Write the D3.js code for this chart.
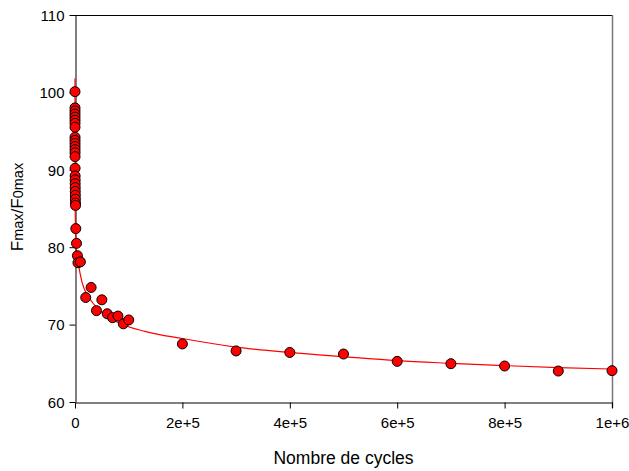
<!DOCTYPE html>
<html><head><meta charset="utf-8">
<script src="https://cdn.jsdelivr.net/npm/d3@7"></script>
<style>body{margin:0;background:#fff}svg{display:block}text{font-family:"Liberation Sans",Arial,sans-serif}</style>
</head><body>
<svg id="c" width="629" height="471"></svg>
<script>
// Measured points (cycles, Fmax/F0max)
const cycles = [5, 12, 14, 16, 19, 22, 25, 30, 45, 52, 60, 68, 78, 90, 105, 170, 230, 280, 340, 410, 500, 600, 720, 870, 1000, 1500, 2800, 4500, 5500,
  10000, 20000, 30000, 40000, 50000, 60000, 70000, 80000, 90000, 100000,
  200000, 300000, 400000, 500000, 600000, 700000, 800000, 900000, 1000000];
const ratio = [100.1, 98.0, 97.6, 97.2, 96.8, 96.4, 96.0, 95.5, 94.2, 93.8, 93.4, 93.0, 92.6, 92.2, 91.7, 90.2, 89.2, 88.7, 88.2, 87.7, 87.2, 86.7, 86.2, 85.7, 85.4, 82.4, 80.5, 78.9, 78.0,
  78.1, 73.5, 74.8, 71.8, 73.2, 71.4, 70.9, 71.1, 70.1, 70.6,
  67.5, 66.6, 66.4, 66.2, 65.25, 64.95, 64.65, 64.0, 64.05];
// Fitted curve
const fitX = [3, 10, 30, 100, 300, 1000, 3000, 6000, 13000, 27000, 45000, 76000, 132000, 200000, 300000, 400000, 500000, 600000, 700000, 800000, 900000, 1000000];
const fitY = [101.8, 97.4, 93.5, 89.5, 86.1, 82.4, 79.2, 77.9, 75.5, 73.4, 71.9, 70.4, 69.1, 68.2, 67.1, 66.4, 65.85, 65.34, 65.0, 64.7, 64.45, 64.26];
const xTicks = [0, 200000, 400000, 600000, 800000, 1000000];
const xTickLabels = ["0", "2e+5", "4e+5", "6e+5", "8e+5", "1e+6"];
const yTicks = [60, 70, 80, 90, 100, 110];

const svg = d3.select("#c");
const L = 75, R = 612, T = 15, B = 402;
const x = d3.scaleLinear().domain([0, 1000000]).range([L, R]);
const y = d3.scaleLinear().domain([60, 110]).range([B, T]);

// frame top and right
svg.append("line").attr("x1", L).attr("x2", R).attr("y1", T + 0.5).attr("y2", T + 0.5).attr("stroke", "#000");
svg.append("line").attr("x1", R + 0.5).attr("x2", R + 0.5).attr("y1", T).attr("y2", B + 6).attr("stroke", "#777").attr("stroke-width", 1.5);

const xa = svg.append("g").attr("transform", `translate(0,${B + 0.5})`)
  .call(d3.axisBottom(x).tickValues(xTicks).tickFormat((d, i) => xTickLabels[i]).tickSize(6).tickSizeOuter(0));
const ya = svg.append("g").attr("transform", `translate(${L + 0.5},0)`)
  .call(d3.axisLeft(y).tickValues(yTicks).tickSize(6).tickSizeOuter(0));
[xa, ya].forEach(g => {
  g.selectAll("path,line").attr("stroke", "#000");
  g.selectAll("text").attr("fill", "#000").style("font-size", "15px").style("font-family", "Liberation Sans, Arial, sans-serif");
});
xa.selectAll("text").attr("y", 12).attr("dy", "0.9em");
ya.selectAll("text").attr("x", -11).attr("dy", "0.35em");

// fit curve
const line = d3.line().x((d, i) => x(fitX[i])).y(d => y(d)).curve(d3.curveMonotoneX);
svg.append("path").datum(fitY).attr("d", line).attr("fill", "none").attr("stroke", "#ff0000").attr("stroke-width", 1.2);

// points
svg.append("g").selectAll("circle").data(cycles).join("circle")
  .attr("cx", d => x(d)).attr("cy", (d, i) => y(ratio[i])).attr("r", 5)
  .attr("fill", "#ff0000").attr("stroke", "#000").attr("stroke-width", 1);

// axis titles
svg.append("text").attr("x", (L + R) / 2).attr("y", 464).attr("text-anchor", "middle")
  .style("font-size", "17.5px").text("Nombre de cycles");
const yl = svg.append("text").attr("transform", "translate(23,207) rotate(-90)").attr("text-anchor", "middle").style("font-size", "17px");
yl.append("tspan").text("F");
yl.append("tspan").style("font-size", "14.5px").text("max");
yl.append("tspan").text("/F");
yl.append("tspan").style("font-size", "14.5px").text("0max");
</script>
</body></html>
